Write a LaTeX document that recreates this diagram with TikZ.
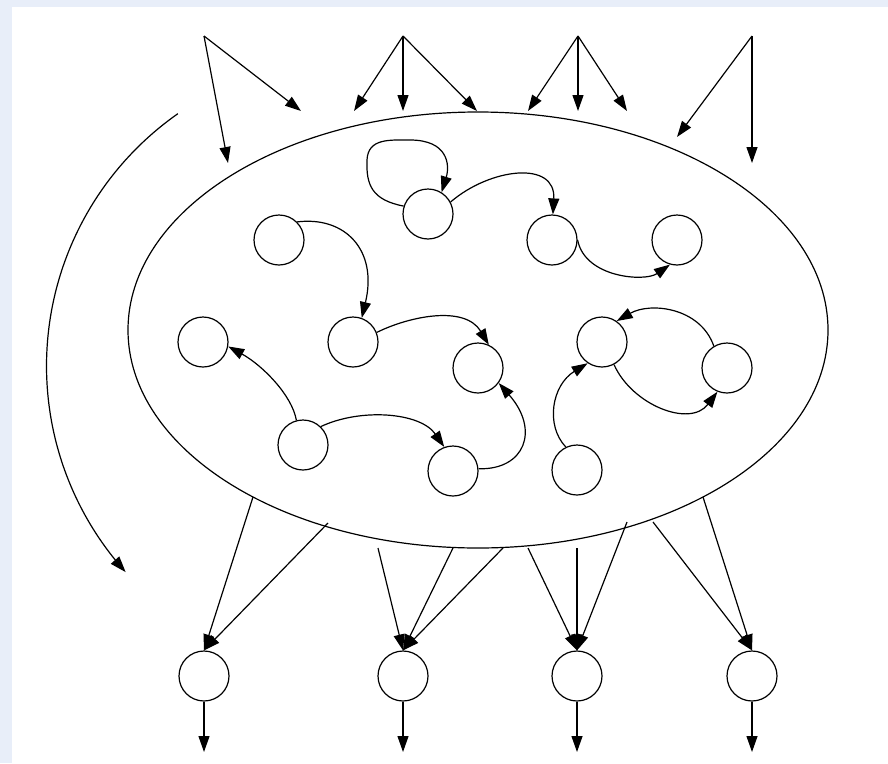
\documentclass[tikz,border=0pt]{standalone}
\usetikzlibrary{arrows.meta}
\definecolor{frameblue}{HTML}{E8EEF9}
\begin{document}
\begin{tikzpicture}[x=1pt,y=-1pt,
  line width=1.2pt,
  state/.style={circle,draw,minimum size=50pt,inner sep=0pt,line width=1.2pt},
  arr/.style={-{Triangle[length=16pt,width=11pt]}}]
% page frame
\fill[frameblue] (0,0) rectangle (888,763);
\fill[white] (12,7) rectangle (888,763);
\useasboundingbox (0,0) rectangle (888,763);

% the enclosing region
\draw (478,330) ellipse [x radius=350pt, y radius=218pt];

% inner states
\node[state] (a) at (428,214) {};
\node[state] (b) at (552,240) {};
\node[state] (c) at (677,240) {};
\node[state] (d) at (279,240) {};
\node[state] (e) at (353,342) {};
\node[state] (f) at (203,342) {};
\node[state] (g) at (303,445) {};
\node[state] (h) at (478,368) {};
\node[state] (i) at (453,471) {};
\node[state] (j) at (602,342) {};
\node[state] (k) at (727,368) {};
\node[state] (l) at (577,470) {};

% output states
\node[state] (o1) at (204,676) {};
\node[state] (o2) at (403,676) {};
\node[state] (o3) at (577,676) {};
\node[state] (o4) at (752,676) {};

% inner transitions
\draw[arr] (a.162) .. controls (372,200) and (366,185) .. (367,160)
                   .. controls (368,138) and (390,140) .. (410,140)
                   .. controls (448,140) and (450,165) .. (a.58);
\draw[arr] (a.28) .. controls (490,168) and (556,160) .. (b.88);
\draw[arr] (b.0) .. controls (585,278) and (645,282) .. (c.-106);
\draw[arr] (d.45) .. controls (345,216) and (378,250) .. (e.70);
\draw[arr] (e.22) .. controls (410,316) and (465,305) .. (h.65);
\draw[arr] (g.105) .. controls (292,395) and (262,365) .. (f.-10);
\draw[arr] (g.46) .. controls (360,408) and (420,412) .. (i.110);
\draw[arr] (i.5) .. controls (525,470) and (540,430) .. (h.-36);
\draw[arr] (l.116) .. controls (545,425) and (552,385) .. (j.-124);
\draw[arr] (j.-62) .. controls (632,405) and (690,428) .. (k.-112);
\draw[arr] (k.121) .. controls (700,307) and (650,302) .. (j.55);

% incoming arrows from above
\coordinate (s1) at (204,36);
\coordinate (s2) at (403,36);
\coordinate (s3) at (578,36);
\coordinate (s4) at (752,36);
\coordinate (t1a) at (228,163);
\coordinate (t1b) at (301,111);
\coordinate (t2a) at (354,111);
\coordinate (t2b) at (403,111);
\coordinate (t2c) at (477,111);
\coordinate (t3a) at (528,111);
\coordinate (t3b) at (578,111);
\coordinate (t3c) at (627,111);
\coordinate (t4a) at (677,137);
\coordinate (t4b) at (752,163);
\draw[arr] (s1) -- (t1a);
\draw[arr] (s1) -- (t1b);
\draw[arr] (s2) -- (t2a);
\draw[arr] (s2) -- (t2b);
\draw[arr] (s2) -- (t2c);
\draw[arr] (s3) -- (t3a);
\draw[arr] (s3) -- (t3b);
\draw[arr] (s3) -- (t3c);
\draw[arr] (s4) -- (t4a);
\draw[arr] (s4) -- (t4b);

% sweeping arrow on the left
\draw[arr] plot[domain=125:222, samples=60, smooth]
  ({354.5+308*cos(\x)}, {366-308*sin(\x)});

% arrows leaving the region
\coordinate (u1) at (253,497);
\coordinate (u2) at (328,523);
\coordinate (u3) at (378,548);
\coordinate (u4) at (453,548);
\coordinate (u5) at (503,548);
\coordinate (u6) at (528,548);
\coordinate (u7) at (577,548);
\coordinate (u8) at (627,522);
\coordinate (u9) at (653,522);
\coordinate (u10) at (703,497);
\draw[arr] (u1) -- (o1.north);
\draw[arr] (u2) -- (o1.north);
\draw[arr] (u3) -- (o2.north);
\draw[arr] (u4) -- (o2.north);
\draw[arr] (u5) -- (o2.north);
\draw[arr] (u6) -- (o3.north);
\draw[arr] (u7) -- (o3.north);
\draw[arr] (u8) -- (o3.north);
\draw[arr] (u9) -- (o4.north);
\draw[arr] (u10) -- (o4.north);

% outputs
\coordinate (v1) at (204,752);
\coordinate (v2) at (403,752);
\coordinate (v3) at (577,752);
\coordinate (v4) at (752,752);
\draw[arr] (o1.south) -- (v1);
\draw[arr] (o2.south) -- (v2);
\draw[arr] (o3.south) -- (v3);
\draw[arr] (o4.south) -- (v4);
\end{tikzpicture}
\end{document}
